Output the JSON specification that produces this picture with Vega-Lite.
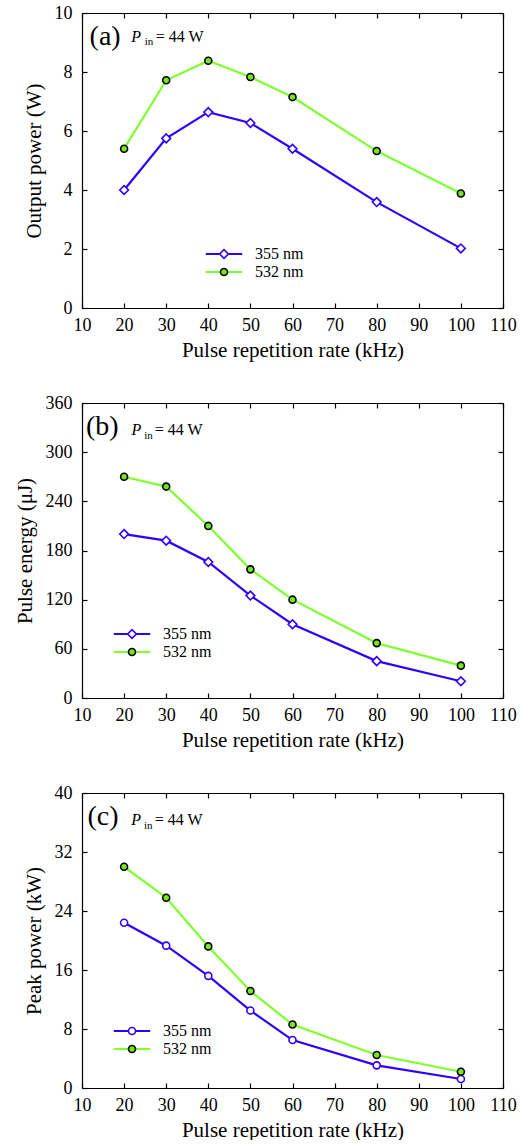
{
  "$schema": "https://vega.github.io/schema/vega-lite/v6.json",
  "padding": {"left": 14, "top": 4, "right": 5, "bottom": 0},
  "spacing": 34,
  "resolve": {
    "scale": {"color": "independent", "fill": "independent", "stroke": "independent", "shape": "independent"},
    "legend": {"color": "independent", "fill": "independent", "stroke": "independent", "shape": "independent"}
  },
  "config": {
    "font": "Liberation Serif",
    "view": {"stroke": null},
    "axis": {
      "grid": false, "domainColor": "black", "domainWidth": 1.2, "tickColor": "black", "tickWidth": 1.2, "tickSize": -5,
      "labelFont": "Liberation Serif", "labelFontSize": 18, "labelColor": "black", "labelFlush": false, "labelOverlap": false,
      "titleFont": "Liberation Serif", "titleFontSize": 21, "titleFontWeight": "normal", "titleColor": "black"
    },
    "legend": {"labelFont": "Liberation Serif", "labelColor": "black"},
    "text": {"font": "Liberation Serif", "color": "black"}
  },
  "vconcat": [
    {
      "width": 421, "height": 295,
      "data": {"values": [
        {"rate": 20, "value": 4.0, "series": "355 nm"}, {"rate": 30, "value": 5.75, "series": "355 nm"}, {"rate": 40, "value": 6.64, "series": "355 nm"}, {"rate": 50, "value": 6.27, "series": "355 nm"}, {"rate": 60, "value": 5.4, "series": "355 nm"}, {"rate": 80, "value": 3.59, "series": "355 nm"}, {"rate": 100, "value": 2.02, "series": "355 nm"},
        {"rate": 20, "value": 5.4, "series": "532 nm"}, {"rate": 30, "value": 7.72, "series": "532 nm"}, {"rate": 40, "value": 8.38, "series": "532 nm"}, {"rate": 50, "value": 7.83, "series": "532 nm"}, {"rate": 60, "value": 7.15, "series": "532 nm"}, {"rate": 80, "value": 5.32, "series": "532 nm"}, {"rate": 100, "value": 3.88, "series": "532 nm"}
      ]},
      "resolve": {"axis": {"x": "independent", "y": "independent"}},
      "layer": [
        {
          "mark": {"type": "line", "strokeWidth": 2.2},
          "encoding": {
            "x": {"field": "rate", "type": "quantitative", "scale": {"domain": [10, 110], "nice": false},
                  "axis": {"orient": "bottom", "values": [10, 20, 30, 40, 50, 60, 70, 80, 90, 100, 110], "labelPadding": 13, "title": "Pulse repetition rate (kHz)", "titlePadding": 5}},
            "y": {"field": "value", "type": "quantitative", "scale": {"domain": [0, 10], "nice": false},
                  "axis": {"orient": "left", "values": [0, 2, 4, 6, 8, 10], "labelPadding": 15, "title": "Output power (W)", "titlePadding": 10}},
            "color": {"field": "series", "type": "nominal", "scale": {"range": ["#3000ff", "#80ff30"]},
                      "legend": {"orient": "none", "legendX": 134, "legendY": 233, "title": null, "symbolType": "M-5.2,0L5.2,0", "symbolSize": 49, "symbolStrokeWidth": 2.2, "symbolFillColor": "transparent", "labelFont": "Liberation Serif", "labelFontSize": 16, "labelColor": "black", "labelOffset": 23, "rowPadding": 2, "padding": 0}}
          }
        },
        {
          "mark": {"type": "point", "filled": true, "opacity": 1, "size": 49, "strokeWidth": 1.6},
          "encoding": {
            "x": {"field": "rate", "type": "quantitative", "axis": {"orient": "top", "values": [10, 20, 30, 40, 50, 60, 70, 80, 90, 100, 110], "labels": false, "title": null}},
            "y": {"field": "value", "type": "quantitative", "axis": {"orient": "right", "values": [0, 2, 4, 6, 8, 10], "labels": false, "title": null}},
            "shape": {"field": "series", "type": "nominal", "scale": {"domain": ["355 nm", "532 nm"], "range": ["M-1.25,0L0,-1.25L1.25,0L0,1.25Z", "circle"]},
                      "legend": {"orient": "none", "legendX": 134, "legendY": 233, "title": null, "symbolSize": 49, "symbolStrokeWidth": 1.6, "symbolOpacity": 1, "labelFont": "Liberation Serif", "labelFontSize": 16, "labelOpacity": 0, "labelOffset": 23, "rowPadding": 2, "padding": 0}},
            "fill": {"field": "series", "type": "nominal", "scale": {"domain": ["355 nm", "532 nm"], "range": ["white", "#74e622"]},
                     "legend": {"orient": "none", "legendX": 134, "legendY": 233, "title": null, "symbolSize": 49, "symbolStrokeWidth": 1.6, "symbolOpacity": 1, "labelFont": "Liberation Serif", "labelFontSize": 16, "labelOpacity": 0, "labelOffset": 23, "rowPadding": 2, "padding": 0}},
            "stroke": {"field": "series", "type": "nominal", "scale": {"domain": ["355 nm", "532 nm"], "range": ["#3000ff", "black"]},
                       "legend": {"orient": "none", "legendX": 134, "legendY": 233, "title": null, "symbolSize": 49, "symbolStrokeWidth": 1.6, "symbolOpacity": 1, "labelFont": "Liberation Serif", "labelFontSize": 16, "labelOpacity": 0, "labelOffset": 23, "rowPadding": 2, "padding": 0}}
          }
        },
        {
          "data": {"values": [{"x": 11.8, "y": 8.92, "t": "(a)"}]},
          "mark": {"type": "text", "align": "left", "baseline": "alphabetic", "fontSize": 28},
          "encoding": {"x": {"field": "x", "type": "quantitative", "axis": null}, "y": {"field": "y", "type": "quantitative", "axis": null}, "text": {"field": "t"}}
        },
        {
          "data": {"values": [{"x": 21.7, "y": 9.03, "t": "P"}]},
          "mark": {"type": "text", "align": "left", "baseline": "alphabetic", "fontSize": 16, "fontStyle": "italic"},
          "encoding": {"x": {"field": "x", "type": "quantitative", "axis": null}, "y": {"field": "y", "type": "quantitative", "axis": null}, "text": {"field": "t"}}
        },
        {
          "data": {"values": [{"x": 24.9, "y": 8.92, "t": "in"}]},
          "mark": {"type": "text", "align": "left", "baseline": "alphabetic", "fontSize": 11},
          "encoding": {"x": {"field": "x", "type": "quantitative", "axis": null}, "y": {"field": "y", "type": "quantitative", "axis": null}, "text": {"field": "t"}}
        },
        {
          "data": {"values": [{"x": 27.5, "y": 9.03, "t": "= 44 W"}]},
          "mark": {"type": "text", "align": "left", "baseline": "alphabetic", "fontSize": 16},
          "encoding": {"x": {"field": "x", "type": "quantitative", "axis": null}, "y": {"field": "y", "type": "quantitative", "axis": null}, "text": {"field": "t"}}
        }
      ]
    },
    {
      "width": 421, "height": 295,
      "data": {"values": [
        {"rate": 20, "value": 200, "series": "355 nm"}, {"rate": 30, "value": 192, "series": "355 nm"}, {"rate": 40, "value": 166, "series": "355 nm"}, {"rate": 50, "value": 125, "series": "355 nm"}, {"rate": 60, "value": 90, "series": "355 nm"}, {"rate": 80, "value": 45, "series": "355 nm"}, {"rate": 100, "value": 20.5, "series": "355 nm"},
        {"rate": 20, "value": 270, "series": "532 nm"}, {"rate": 30, "value": 258, "series": "532 nm"}, {"rate": 40, "value": 210, "series": "532 nm"}, {"rate": 50, "value": 157, "series": "532 nm"}, {"rate": 60, "value": 120, "series": "532 nm"}, {"rate": 80, "value": 67, "series": "532 nm"}, {"rate": 100, "value": 39.5, "series": "532 nm"}
      ]},
      "resolve": {"axis": {"x": "independent", "y": "independent"}},
      "layer": [
        {
          "mark": {"type": "line", "strokeWidth": 2.2},
          "encoding": {
            "x": {"field": "rate", "type": "quantitative", "scale": {"domain": [10, 110], "nice": false},
                  "axis": {"orient": "bottom", "values": [10, 20, 30, 40, 50, 60, 70, 80, 90, 100, 110], "labelPadding": 13, "title": "Pulse repetition rate (kHz)", "titlePadding": 5}},
            "y": {"field": "value", "type": "quantitative", "scale": {"domain": [0, 360], "nice": false},
                  "axis": {"orient": "left", "values": [0, 60, 120, 180, 240, 300, 360], "labelPadding": 15, "title": "Pulse energy (μJ)", "titlePadding": 10}},
            "color": {"field": "series", "type": "nominal", "scale": {"range": ["#3000ff", "#80ff30"]},
                      "legend": {"orient": "none", "legendX": 42, "legendY": 223, "title": null, "symbolType": "M-5.2,0L5.2,0", "symbolSize": 49, "symbolStrokeWidth": 2.2, "symbolFillColor": "transparent", "labelFont": "Liberation Serif", "labelFontSize": 16, "labelColor": "black", "labelOffset": 23, "rowPadding": 2, "padding": 0}}
          }
        },
        {
          "mark": {"type": "point", "filled": true, "opacity": 1, "size": 49, "strokeWidth": 1.6},
          "encoding": {
            "x": {"field": "rate", "type": "quantitative", "axis": {"orient": "top", "values": [10, 20, 30, 40, 50, 60, 70, 80, 90, 100, 110], "labels": false, "title": null}},
            "y": {"field": "value", "type": "quantitative", "axis": {"orient": "right", "values": [0, 60, 120, 180, 240, 300, 360], "labels": false, "title": null}},
            "shape": {"field": "series", "type": "nominal", "scale": {"domain": ["355 nm", "532 nm"], "range": ["M-1.25,0L0,-1.25L1.25,0L0,1.25Z", "circle"]},
                      "legend": {"orient": "none", "legendX": 42, "legendY": 223, "title": null, "symbolSize": 49, "symbolStrokeWidth": 1.6, "symbolOpacity": 1, "labelFont": "Liberation Serif", "labelFontSize": 16, "labelOpacity": 0, "labelOffset": 23, "rowPadding": 2, "padding": 0}},
            "fill": {"field": "series", "type": "nominal", "scale": {"domain": ["355 nm", "532 nm"], "range": ["white", "#74e622"]},
                     "legend": {"orient": "none", "legendX": 42, "legendY": 223, "title": null, "symbolSize": 49, "symbolStrokeWidth": 1.6, "symbolOpacity": 1, "labelFont": "Liberation Serif", "labelFontSize": 16, "labelOpacity": 0, "labelOffset": 23, "rowPadding": 2, "padding": 0}},
            "stroke": {"field": "series", "type": "nominal", "scale": {"domain": ["355 nm", "532 nm"], "range": ["#3000ff", "black"]},
                       "legend": {"orient": "none", "legendX": 42, "legendY": 223, "title": null, "symbolSize": 49, "symbolStrokeWidth": 1.6, "symbolOpacity": 1, "labelFont": "Liberation Serif", "labelFontSize": 16, "labelOpacity": 0, "labelOffset": 23, "rowPadding": 2, "padding": 0}}
          }
        },
        {
          "data": {"values": [{"x": 10.95, "y": 321, "t": "(b)"}]},
          "mark": {"type": "text", "align": "left", "baseline": "alphabetic", "fontSize": 28},
          "encoding": {"x": {"field": "x", "type": "quantitative", "axis": null}, "y": {"field": "y", "type": "quantitative", "axis": null}, "text": {"field": "t"}}
        },
        {
          "data": {"values": [{"x": 21.75, "y": 321, "t": "P"}]},
          "mark": {"type": "text", "align": "left", "baseline": "alphabetic", "fontSize": 16, "fontStyle": "italic"},
          "encoding": {"x": {"field": "x", "type": "quantitative", "axis": null}, "y": {"field": "y", "type": "quantitative", "axis": null}, "text": {"field": "t"}}
        },
        {
          "data": {"values": [{"x": 24.8, "y": 316, "t": "in"}]},
          "mark": {"type": "text", "align": "left", "baseline": "alphabetic", "fontSize": 11},
          "encoding": {"x": {"field": "x", "type": "quantitative", "axis": null}, "y": {"field": "y", "type": "quantitative", "axis": null}, "text": {"field": "t"}}
        },
        {
          "data": {"values": [{"x": 27.3, "y": 321, "t": "= 44 W"}]},
          "mark": {"type": "text", "align": "left", "baseline": "alphabetic", "fontSize": 16},
          "encoding": {"x": {"field": "x", "type": "quantitative", "axis": null}, "y": {"field": "y", "type": "quantitative", "axis": null}, "text": {"field": "t"}}
        }
      ]
    },
    {
      "width": 421, "height": 295,
      "data": {"values": [
        {"rate": 20, "value": 22.4, "series": "355 nm"}, {"rate": 30, "value": 19.3, "series": "355 nm"}, {"rate": 40, "value": 15.2, "series": "355 nm"}, {"rate": 50, "value": 10.5, "series": "355 nm"}, {"rate": 60, "value": 6.5, "series": "355 nm"}, {"rate": 80, "value": 3.07, "series": "355 nm"}, {"rate": 100, "value": 1.22, "series": "355 nm"},
        {"rate": 20, "value": 30.0, "series": "532 nm"}, {"rate": 30, "value": 25.8, "series": "532 nm"}, {"rate": 40, "value": 19.2, "series": "532 nm"}, {"rate": 50, "value": 13.15, "series": "532 nm"}, {"rate": 60, "value": 8.6, "series": "532 nm"}, {"rate": 80, "value": 4.47, "series": "532 nm"}, {"rate": 100, "value": 2.2, "series": "532 nm"}
      ]},
      "resolve": {"axis": {"x": "independent", "y": "independent"}},
      "layer": [
        {
          "mark": {"type": "line", "strokeWidth": 2.2},
          "encoding": {
            "x": {"field": "rate", "type": "quantitative", "scale": {"domain": [10, 110], "nice": false},
                  "axis": {"orient": "bottom", "values": [10, 20, 30, 40, 50, 60, 70, 80, 90, 100, 110], "labelPadding": 13, "title": "Pulse repetition rate (kHz)", "titlePadding": 5}},
            "y": {"field": "value", "type": "quantitative", "scale": {"domain": [0, 40], "nice": false},
                  "axis": {"orient": "left", "values": [0, 8, 16, 24, 32, 40], "labelPadding": 15, "title": "Peak power (kW)", "titlePadding": 10}},
            "color": {"field": "series", "type": "nominal", "scale": {"range": ["#3000ff", "#80ff30"]},
                      "legend": {"orient": "none", "legendX": 42, "legendY": 230, "title": null, "symbolType": "M-5.2,0L5.2,0", "symbolSize": 49, "symbolStrokeWidth": 2.2, "symbolFillColor": "transparent", "labelFont": "Liberation Serif", "labelFontSize": 16, "labelColor": "black", "labelOffset": 23, "rowPadding": 2, "padding": 0}}
          }
        },
        {
          "mark": {"type": "point", "filled": true, "opacity": 1, "size": 49, "strokeWidth": 1.6},
          "encoding": {
            "x": {"field": "rate", "type": "quantitative", "axis": {"orient": "top", "values": [10, 20, 30, 40, 50, 60, 70, 80, 90, 100, 110], "labels": false, "title": null}},
            "y": {"field": "value", "type": "quantitative", "axis": {"orient": "right", "values": [0, 8, 16, 24, 32, 40], "labels": false, "title": null}},
            "shape": {"field": "series", "type": "nominal", "scale": {"domain": ["355 nm", "532 nm"], "range": ["circle", "circle"]},
                      "legend": {"orient": "none", "legendX": 42, "legendY": 230, "title": null, "symbolSize": 49, "symbolStrokeWidth": 1.6, "symbolOpacity": 1, "labelFont": "Liberation Serif", "labelFontSize": 16, "labelOpacity": 0, "labelOffset": 23, "rowPadding": 2, "padding": 0}},
            "fill": {"field": "series", "type": "nominal", "scale": {"domain": ["355 nm", "532 nm"], "range": ["white", "#74e622"]},
                     "legend": {"orient": "none", "legendX": 42, "legendY": 230, "title": null, "symbolSize": 49, "symbolStrokeWidth": 1.6, "symbolOpacity": 1, "labelFont": "Liberation Serif", "labelFontSize": 16, "labelOpacity": 0, "labelOffset": 23, "rowPadding": 2, "padding": 0}},
            "stroke": {"field": "series", "type": "nominal", "scale": {"domain": ["355 nm", "532 nm"], "range": ["#3000ff", "black"]},
                       "legend": {"orient": "none", "legendX": 42, "legendY": 230, "title": null, "symbolSize": 49, "symbolStrokeWidth": 1.6, "symbolOpacity": 1, "labelFont": "Liberation Serif", "labelFontSize": 16, "labelOpacity": 0, "labelOffset": 23, "rowPadding": 2, "padding": 0}}
          }
        },
        {
          "data": {"values": [{"x": 11.3, "y": 35.7, "t": "(c)"}]},
          "mark": {"type": "text", "align": "left", "baseline": "alphabetic", "fontSize": 28},
          "encoding": {"x": {"field": "x", "type": "quantitative", "axis": null}, "y": {"field": "y", "type": "quantitative", "axis": null}, "text": {"field": "t"}}
        },
        {
          "data": {"values": [{"x": 21.7, "y": 35.6, "t": "P"}]},
          "mark": {"type": "text", "align": "left", "baseline": "alphabetic", "fontSize": 16, "fontStyle": "italic"},
          "encoding": {"x": {"field": "x", "type": "quantitative", "axis": null}, "y": {"field": "y", "type": "quantitative", "axis": null}, "text": {"field": "t"}}
        },
        {
          "data": {"values": [{"x": 24.7, "y": 35.1, "t": "in"}]},
          "mark": {"type": "text", "align": "left", "baseline": "alphabetic", "fontSize": 11},
          "encoding": {"x": {"field": "x", "type": "quantitative", "axis": null}, "y": {"field": "y", "type": "quantitative", "axis": null}, "text": {"field": "t"}}
        },
        {
          "data": {"values": [{"x": 27.3, "y": 35.6, "t": "= 44 W"}]},
          "mark": {"type": "text", "align": "left", "baseline": "alphabetic", "fontSize": 16},
          "encoding": {"x": {"field": "x", "type": "quantitative", "axis": null}, "y": {"field": "y", "type": "quantitative", "axis": null}, "text": {"field": "t"}}
        }
      ]
    }
  ]
}
